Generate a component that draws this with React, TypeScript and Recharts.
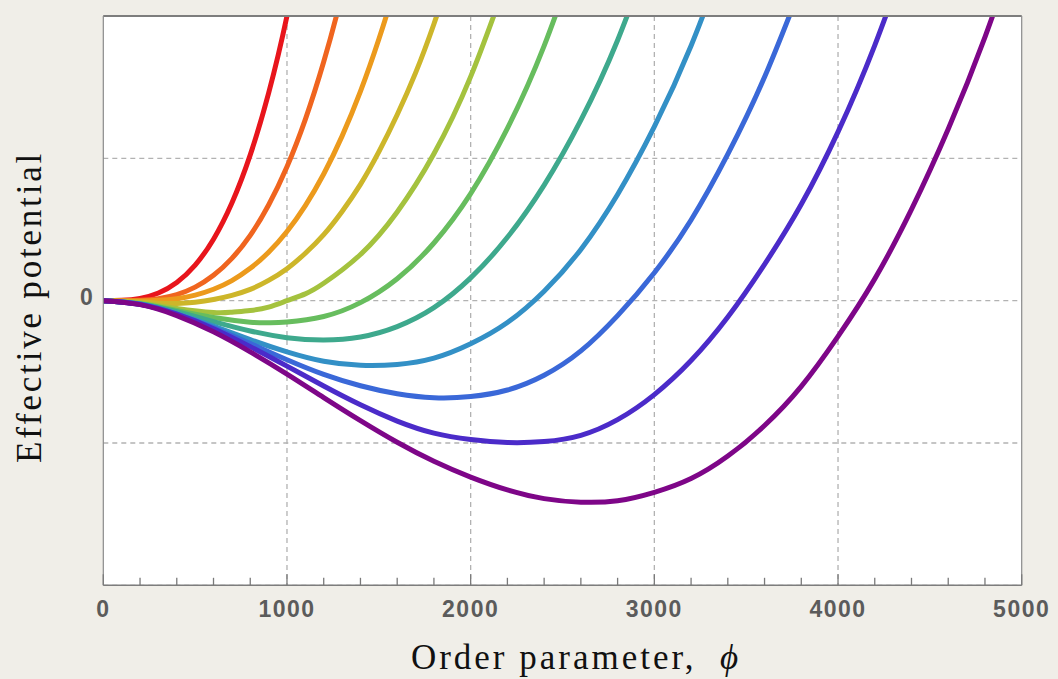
import { LineChart, Line, XAxis, YAxis, CartesianGrid, ReferenceLine } from "recharts";

type Pt = [number, number];

// curves, [phi, V]; the last point of each sits above the frame so the line runs out the top
const red: Pt[] = [[0, 0], [100, 0.002], [200, 0.016], [300, 0.054], [400, 0.128], [500, 0.25], [600, 0.432], [700, 0.686], [800, 1.024], [900, 1.458], [1000, 2.0], [1100, 2.66]];
const orangeRed: Pt[] = [[0, 0], [200, 0.002], [300, 0.014], [400, 0.043], [500, 0.095], [600, 0.178], [700, 0.297], [800, 0.459], [900, 0.672], [1000, 0.941], [1100, 1.274], [1200, 1.678], [1300, 2.158], [1400, 2.72]];
const orange: Pt[] = [[0, 0], [100, -0.0015], [200, -0.002], [300, 0.002], [400, 0.014], [500, 0.039], [600, 0.08], [700, 0.141], [800, 0.227], [900, 0.34], [1000, 0.486], [1100, 0.668], [1200, 0.89], [1300, 1.156], [1400, 1.47], [1500, 1.836], [1600, 2.258], [1700, 2.74]];
const yellow: Pt[] = [[0, 0], [200, -0.01], [300, -0.018], [400, -0.02], [500, -0.011], [600, 0.008], [700, 0.037], [800, 0.079], [900, 0.142], [1000, 0.224], [1100, 0.333], [1200, 0.464], [1300, 0.627], [1400, 0.817], [1500, 1.045], [1600, 1.306], [1700, 1.6], [1800, 1.944], [1900, 2.33]];
const yellowGreen: Pt[] = [[0, 0], [200, -0.017], [400, -0.055], [600, -0.084], [700, -0.081], [800, -0.069], [900, -0.045], [1000, 0.0], [1100, 0.048], [1200, 0.122], [1400, 0.324], [1600, 0.623], [1800, 1.032], [2000, 1.574], [2200, 2.267]];
const green: Pt[] = [[0, 0], [200, -0.021], [400, -0.069], [600, -0.119], [800, -0.151], [900, -0.155], [1000, -0.15], [1200, -0.111], [1400, -0.014], [1600, 0.154], [1800, 0.405], [2000, 0.752], [2200, 1.21], [2400, 1.79], [2600, 2.51]];
const tealGreen: Pt[] = [[0, 0], [200, -0.023], [400, -0.078], [600, -0.147], [800, -0.213], [1000, -0.26], [1200, -0.276], [1400, -0.255], [1600, -0.182], [1800, -0.049], [2000, 0.16], [2200, 0.445], [2400, 0.812], [2600, 1.268], [2800, 1.83], [3000, 2.52]];
const teal: Pt[] = [[0, 0], [200, -0.024], [400, -0.092], [600, -0.179], [800, -0.274], [1000, -0.36], [1200, -0.426], [1400, -0.454], [1600, -0.448], [1800, -0.404], [2000, -0.303], [2200, -0.154], [2400, 0.066], [2600, 0.36], [2800, 0.746], [3000, 1.222], [3200, 1.791], [3400, 2.47]];
const blue: Pt[] = [[0, 0], [200, -0.025], [400, -0.094], [600, -0.19], [800, -0.301], [1000, -0.415], [1200, -0.518], [1400, -0.598], [1600, -0.654], [1800, -0.682], [2000, -0.674], [2200, -0.628], [2400, -0.524], [2600, -0.353], [2800, -0.105], [3000, 0.196], [3200, 0.567], [3400, 1.029], [3600, 1.571], [3800, 2.214]];
const violet: Pt[] = [[0, 0], [200, -0.026], [400, -0.095], [600, -0.197], [800, -0.323], [1000, -0.46], [1200, -0.6], [1400, -0.732], [1600, -0.846], [1800, -0.931], [2000, -0.976], [2200, -0.997], [2400, -0.99], [2600, -0.946], [2800, -0.836], [3000, -0.66], [3200, -0.421], [3400, -0.115], [3600, 0.255], [3800, 0.677], [4000, 1.186], [4200, 1.794], [4400, 2.503]];
const purple: Pt[] = [[0, 0], [200, -0.028], [400, -0.105], [600, -0.219], [800, -0.36], [1000, -0.516], [1200, -0.681], [1400, -0.843], [1600, -0.995], [1800, -1.129], [2000, -1.24], [2200, -1.33], [2400, -1.391], [2600, -1.416], [2800, -1.406], [3000, -1.347], [3200, -1.25], [3400, -1.092], [3600, -0.877], [3800, -0.602], [4000, -0.251], [4200, 0.153], [4400, 0.641], [4600, 1.206], [4800, 1.852], [5000, 2.59]];

const curves = [
  { id: "c1", color: "#e8151c", points: red },
  { id: "c2", color: "#f0651f", points: orangeRed },
  { id: "c3", color: "#ec9a1c", points: orange },
  { id: "c4", color: "#cdb62a", points: yellow },
  { id: "c5", color: "#a4c23e", points: yellowGreen },
  { id: "c6", color: "#67bd5e", points: green },
  { id: "c7", color: "#3ea98d", points: tealGreen },
  { id: "c8", color: "#3390c6", points: teal },
  { id: "c9", color: "#3a68d8", points: blue },
  { id: "c10", color: "#4b2bc9", points: violet },
  { id: "c11", color: "#7e0688", points: purple },
];

const xDomain = [0, 5000];
const xTicks = [0, 200, 400, 600, 800, 1000, 1200, 1400, 1600, 1800, 2000, 2200, 2400, 2600, 2800, 3000, 3200, 3400, 3600, 3800, 4000, 4200, 4400, 4600, 4800, 5000];
const xGrid = [1000, 2000, 3000, 4000];
const yTicks = [-1, 0, 1];

const tickFont = { fontFamily: "'Liberation Sans', Arial, sans-serif", fontWeight: 700, fontSize: 23, fill: "#5b5b5b" };

function XTick({ x, y, payload }: any) {
  const v = payload.value;
  const major = v % 1000 === 0;
  return (
    <g>
      <line x1={x} x2={x} y1={y} y2={y - (major ? 11 : 7.5)} stroke="#7a7a7a" strokeWidth={1.3} />
      {major && (
        <text x={x} y={y + 31.4} textAnchor="middle" letterSpacing={1.5} {...tickFont}>
          {v}
        </text>
      )}
    </g>
  );
}

function YTick({ x, y, payload }: any) {
  if (payload.value !== 0) return <g />;
  return (
    <text x={x - 10.5} y={y + 4.5} textAnchor="end" {...tickFont}>
      0
    </text>
  );
}

// vertical dashed grid only at the labelled thousands
const gridX = (props: any) => {
  const s = props?.xAxis?.scale;
  if (typeof s === "function") return xGrid.map((v) => s(v));
  if (s && typeof s.map === "function") return xGrid.map((v) => s.map(v));
  const o = props?.offset;
  if (o) return xGrid.map((v) => o.left + ((v - xDomain[0]) / (xDomain[1] - xDomain[0])) * o.width);
  return [];
};

export default function App() {
  const W = 1058;
  const H = 679;
  const serif = "'Liberation Serif', 'Times New Roman', serif";
  return (
    <div style={{ position: "absolute", left: 0, top: 0, width: W, height: H, background: "#f0eee8" }}>
      <LineChart width={W} height={H} margin={{ top: 16, right: 36.3, bottom: 92.7, left: 102.3 }}>
        <CartesianGrid
          stroke="#b2b2b2"
          strokeWidth={1.3}
          strokeDasharray="5 4"
          fill="#ffffff"
          fillOpacity={1}
          verticalCoordinatesGenerator={gridX}
        />
        <XAxis
          type="number"
          dataKey="x"
          domain={xDomain}
          ticks={xTicks}
          interval={0}
          allowDataOverflow
          height={1}
          tickSize={0}
          tickMargin={0}
          tickLine={false}
          tick={(p: any) => <XTick {...p} />}
          axisLine={{ stroke: "#7d7d7d", strokeWidth: 1.5 }}
        />
        <YAxis
          type="number"
          domain={[-2, 2]}
          ticks={yTicks}
          interval={0}
          allowDataOverflow
          width={1}
          tickSize={0}
          tickMargin={0}
          tickLine={false}
          tick={(p: any) => <YTick {...p} />}
          axisLine={{ stroke: "#8a8a8a", strokeWidth: 1.2 }}
        />
        {curves.map((c) => (
          <Line
            key={c.id}
            data={c.points.map(([x, v]) => ({ x, v }))}
            dataKey="v"
            type="natural"
            stroke={c.color}
            strokeWidth={5}
            dot={false}
            activeDot={false}
            isAnimationActive={false}
          />
        ))}
        <ReferenceLine y={2} stroke="#7d7d7d" strokeWidth={2} />
        <ReferenceLine x={5000} stroke="#8a8a8a" strokeWidth={1.2} />
      </LineChart>
      <svg width={W} height={H} style={{ position: "absolute", left: 0, top: 0, pointerEvents: "none" }}>
        <text x={576} y={669} textAnchor="middle" fontFamily={serif} fontSize={35} letterSpacing={3} fill="#111">
          Order parameter,{"\u00a0\u00a0"}
          <tspan fontStyle="italic">ϕ</tspan>
        </text>
        <text
          x={41}
          y={307}
          transform="rotate(-90 41 307)"
          textAnchor="middle"
          fontFamily={serif}
          fontSize={35}
          letterSpacing={2.8}
          fill="#111"
        >
          Effective potential
        </text>
      </svg>
    </div>
  );
}
